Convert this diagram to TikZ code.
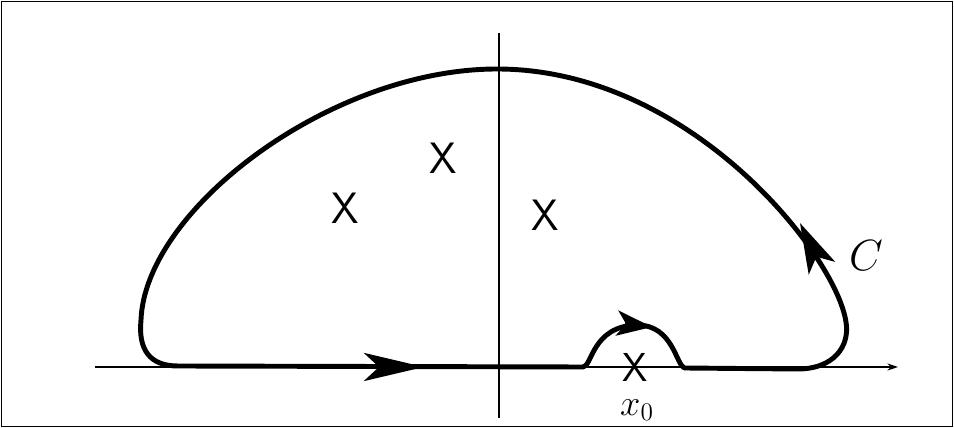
\documentclass[tikz,border=0pt]{standalone}
\usetikzlibrary{arrows.meta}

\begin{document}
\begin{tikzpicture}[x=0.02cm, y=-0.02cm,
    axis/.style={line width=1.2pt},
    contour/.style={line width=2.8pt, line join=round, line cap=round},
    tipbig/.style={line width=2.8pt, -{Stealth[length=1.2cm, width=0.56cm, inset=0.3cm]}},
    tipsmall/.style={line width=2.8pt, -{Stealth[length=0.7cm, width=0.5cm, inset=0.18cm]}},
    pole/.style={font=\fontsize{25}{25}\selectfont\sffamily, inner sep=0pt},
    lbl/.style={font=\fontsize{24}{24}\selectfont, inner sep=0pt}]
    \useasboundingbox (0,0) rectangle (954,428);
    \draw [line width=1pt] (1.5,1.5) rectangle (952.5,426.5);

    % axes
    \coordinate (xl) at (95,367);
    \coordinate (xr) at (898,367);
    \coordinate (yb) at (499,418);
    \coordinate (yt) at (499,33);
    \draw [axis, -{Stealth[length=6pt, width=4pt]}] (xl) -- (xr);
    \draw [axis] (yb) -- (yt);

    % the contour C
    \coordinate (bl) at (178,366);
    \coordinate (bumpl) at (583,367);
    \coordinate (bumptop) at (637,325);
    \coordinate (bumpr) at (685,368);
    \coordinate (br) at (795,369);
    \coordinate (right) at (846,322);
    \coordinate (top) at (497,69);
    \coordinate (left) at (141,320);
    \draw [contour] (bl) -- (bumpl)
        .. controls (592,367) and (592,326) .. (bumptop)
        .. controls (674,325) and (676,367) .. (bumpr)
        -- (br)
        .. controls (835,370) and (850,345) .. (right)
        .. controls (836,255) and (690,69) .. (top)
        .. controls (330,69) and (145,210) .. (left)
        .. controls (138,350) and (150,366) .. (bl);

    % arrows on C
    \coordinate (a1) at (380,367);
    \coordinate (a1t) at (424,367);
    \coordinate (a2) at (625,324);
    \coordinate (a2t) at (652,327);
    \coordinate (a3) at (816,256);
    \coordinate (a3t) at (800,223);
    \draw [tipbig] (a1) -- (a1t);
    \draw [tipsmall] (a2) -- (a2t);
    \draw [tipsmall, -{Stealth[length=1cm, width=0.58cm, inset=0.25cm]}] (a3) -- (a3t);

    % poles
    \node [pole] (p1) at (345,208) {X};
    \node [pole] (p2) at (443,158) {X};
    \node [pole] (p3) at (545,215) {X};
    \node [pole, font=\fontsize{23}{23}\selectfont\sffamily] (p0) at (635,367) {X};
    \node [lbl, anchor=north, font=\fontsize{22}{22}\selectfont] (x0) at (637,399) {$x_0$};
    \node [lbl] (cl) at (866,256) {$C$};
\end{tikzpicture}
\end{document}
